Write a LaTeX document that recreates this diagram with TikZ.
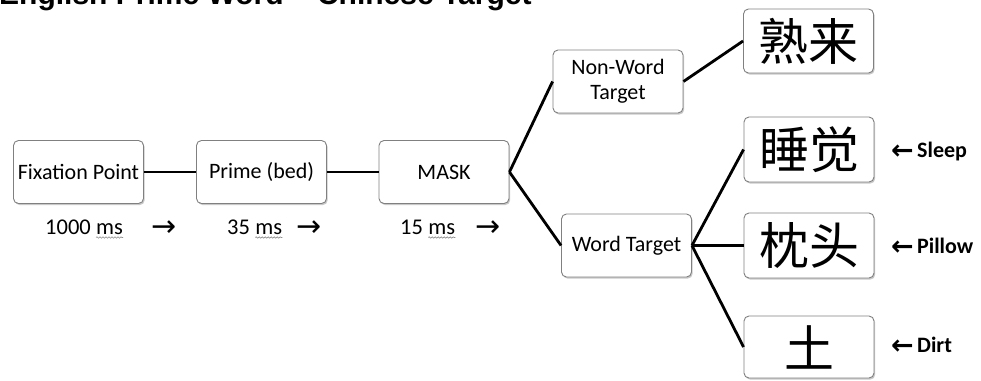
\documentclass[tikz,border=0pt]{standalone}
\usepackage{fontspec}
\setmainfont{Carlito}
\newfontfamily\cjk{Noto Sans CJK SC}
\newfontfamily\arrowfont{DejaVu Sans}
\newfontfamily\titlefont{Liberation Sans}
\usetikzlibrary{shadows,decorations.pathmorphing}
\begin{document}
\begin{tikzpicture}[x=1pt,y=-1pt,
  box/.style={draw=black!50, line width=0.9pt, fill=white, rounded corners=5pt,
    drop shadow={shadow xshift=1.2pt, shadow yshift=-1.6pt, opacity=0.35, fill=black!60},
    minimum width=130pt, minimum height=63pt, inner sep=0pt, align=center,
    font=\fontsize{22}{25}\selectfont},
  cbox/.style={box, font=\cjk\fontsize{50}{52}\selectfont},
  conn/.style={line width=2.8pt, black},
  lbl/.style={inner sep=0pt, anchor=base west, font=\fontsize{22.5}{24}\selectfont},
  arr/.style={inner sep=0pt, anchor=base west, font=\arrowfont\fontsize{30}{32}\selectfont},
  rlbl/.style={inner sep=0pt, anchor=base west, font=\bfseries\fontsize{22}{24}\selectfont},
  larr/.style={inner sep=0pt, anchor=base west, font=\arrowfont\bfseries\fontsize{27}{28}\selectfont},
  wavy/.style={draw=black!45, line width=0.6pt, decorate,
    decoration={snake, amplitude=0.7pt, segment length=3pt}}]
\useasboundingbox (0,0) rectangle (981,380);
\fill[white] (0,0) rectangle (981,380);
% title (cut off at top)
\node[inner sep=0pt, anchor=base west, font=\titlefont\bfseries\fontsize{30}{32}\selectfont] (title) at (-1,4.5) {English Prime Word – Chinese Target};
% boxes
\node[box] (fix) at (78.5,172) {Fixation Point};
\node[box] (prime) at (261.5,172) {Prime (bed)};
\node[box] (mask) at (444,172) {MASK};
\node[box] (nonword) at (618,81.5) {Non-Word\\Target};
\node[box] (word) at (626.5,245.5) {Word Target};
\node[cbox, minimum height=64pt] (c1) at (808.5,41) {熟来};
\node[cbox, minimum height=65pt] (c2) at (809,149.5) {睡觉};
\node[cbox, minimum height=65pt] (c3) at (809,245.5) {枕头};
\node[cbox, minimum height=62pt] (c4) at (809,347) {土};
% connectors
\draw[conn] (fix.east) -- (prime.west);
\draw[conn] (prime.east) -- (mask.west);
\draw[conn] (mask.east) -- (nonword.west);
\draw[conn] (mask.east) -- (word.west);
\draw[conn] (nonword.east) -- (c1.west);
\draw[conn] (word.east) -- (c2.west);
\draw[conn] (word.east) -- (c3.west);
\draw[conn] (word.east) -- (c4.west);
% timing labels
\node[lbl] (n1) at (45,234) {1000};
\node[lbl] (m1) at ([xshift=5pt]n1.base east) {ms};
\node[arr] (a1) at (151,236) {→};
\node[lbl] (n2) at (227,234) {35};
\node[lbl] (m2) at ([xshift=5pt]n2.base east) {ms};
\node[arr] (a2) at (296,236) {→};
\node[lbl] (n3) at (400,234) {15};
\node[lbl] (m3) at ([xshift=5pt]n3.base east) {ms};
\node[arr] (a3) at (475,236) {→};
\draw[wavy] ([yshift=-3.5pt]m1.base west) -- ([yshift=-3.5pt]m1.base east);
\draw[wavy] ([yshift=-3.5pt]m2.base west) -- ([yshift=-3.5pt]m2.base east);
\draw[wavy] ([yshift=-3.5pt]m3.base west) -- ([yshift=-3.5pt]m3.base east);
% meaning labels
\node[larr] (l1) at (891,159) {←};
\node[rlbl] (s1) at (917,157) {Sleep};
\node[larr] (l2) at (891,255) {←};
\node[rlbl] (s2) at (917,253) {Pillow};
\node[larr] (l3) at (891,354) {←};
\node[rlbl] (s3) at (917,352) {Dirt};
\end{tikzpicture}
\end{document}
